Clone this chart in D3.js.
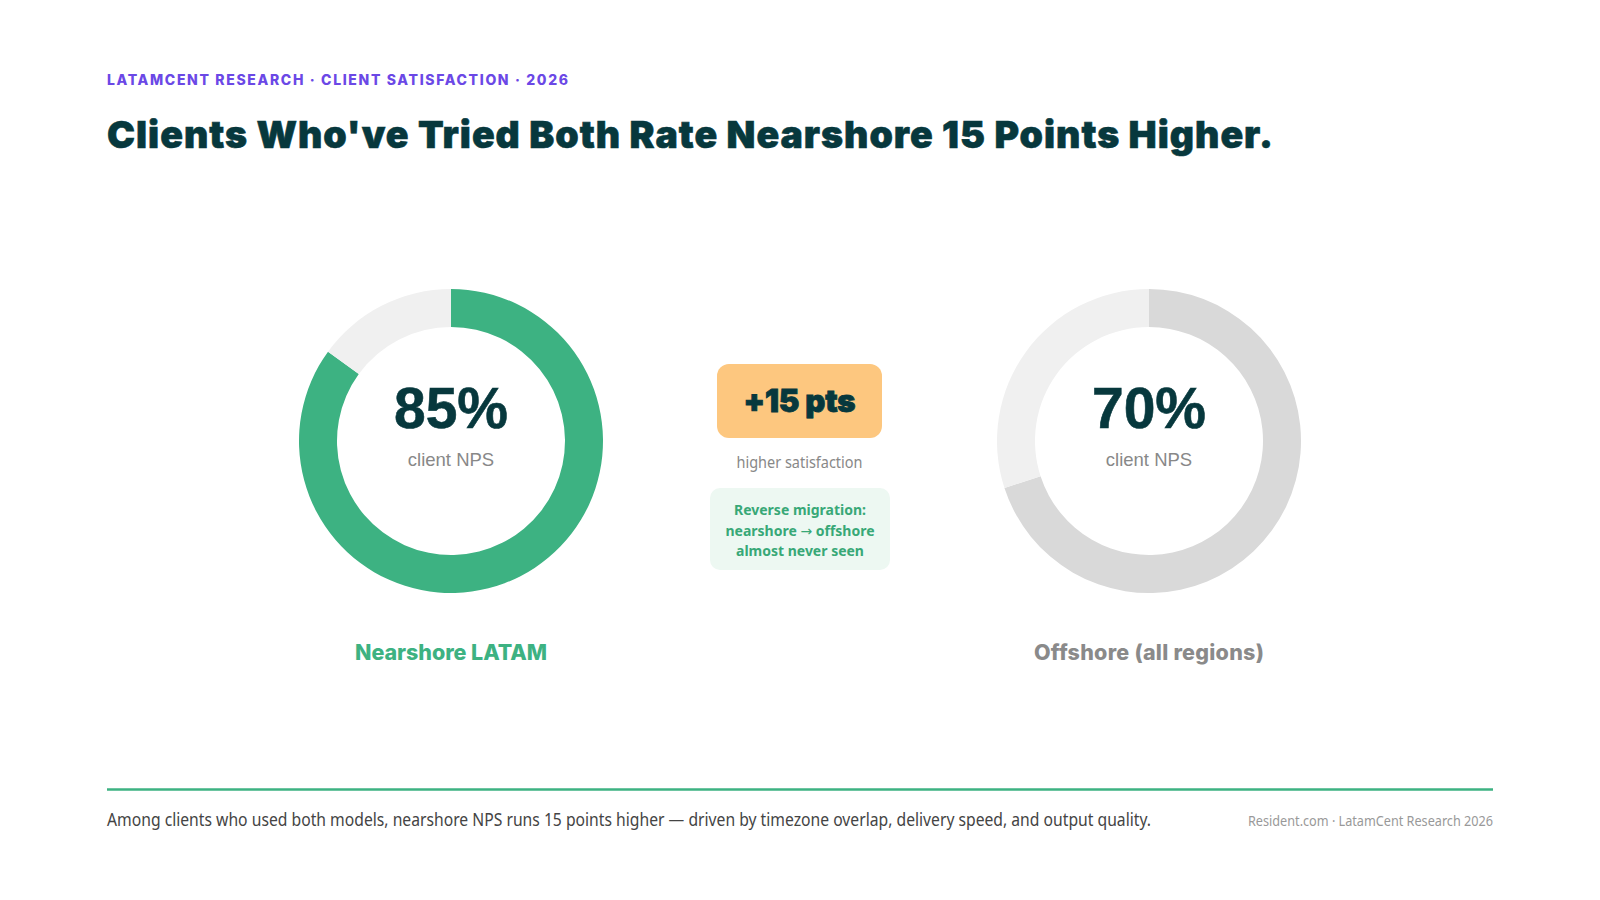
<!DOCTYPE html>
<html>
<head>
<meta charset="utf-8">
<script src="https://cdn.jsdelivr.net/npm/d3@7"></script>
<style>
  html, body { margin: 0; padding: 0; background: #ffffff; }
  svg { display: block; }
</style>
</head>
<body>
<svg id="chart" width="1600" height="900"></svg>
<script>
// ---- data ----
const segments = ["Nearshore LATAM", "Offshore (all regions)"];
const npsValues = [85, 70];
const centerCaption = "client NPS";
const deltaLabel = "+15 pts";
const deltaCaption = "higher satisfaction";
const noteLines = [["Reverse migration:"], ["nearshore ", "\u2192", " offshore"], ["almost never seen"]];
const eyebrow = "LATAMCENT RESEARCH \u00B7 CLIENT SATISFACTION \u00B7 2026";
const title = "Clients Who've Tried Both Rate Nearshore 15 Points Higher.";
const footnote = "Among clients who used both models, nearshore NPS runs 15 points higher \u2014 driven by timezone overlap, delivery speed, and output quality.";
const credit = "Resident.com \u00B7 LatamCent Research 2026";

// ---- styles ----
const dark = "#07383d";
const green = "#3db282";
const fillColors = [green, "#d9d9d9"];
const restColors = ["#f0f0f0", "#f0f0f0"];
const labelColors = [green, "#8a8a8a"];

const svg = d3.select("#chart");

function fit(sel, w) {
  sel.attr("textLength", w).attr("lengthAdjust", "spacingAndGlyphs");
}
function spaceTo(sel, w) {
  const node = sel.node();
  sel.attr("letter-spacing", 0);
  const nat = node.getComputedTextLength();
  const n = node.textContent.length;
  sel.attr("letter-spacing", (w - nat) / (n - 1));
}

// eyebrow
svg.append("text")
  .attr("x", 107).attr("y", 85)
  .attr("font-family", "Inter, 'Noto Sans', sans-serif")
  .attr("font-weight", 800).attr("font-size", 14)
  .attr("fill", "#6b48e6")
  .text(eyebrow)
  .call(spaceTo, 461);

// title
svg.append("text")
  .attr("x", 107).attr("y", 148)
  .attr("font-family", "Inter, 'Noto Sans', sans-serif")
  .attr("font-weight", 900).attr("font-size", 37.5)
  .attr("fill", dark)
  .attr("stroke", dark).attr("stroke-width", 0.6)
  .text(title)
  .call(spaceTo, 1166);

// donuts
const x = d3.scalePoint().domain(segments).range([451, 1149]);
const cy = 441;
const arc = d3.arc().innerRadius(114).outerRadius(152);

segments.forEach((s, i) => {
  const g = svg.append("g").attr("transform", `translate(${x(s)},${cy})`);
  const v = npsValues[i];
  const pie = d3.pie().sort(null).value(d => d)([v, 100 - v]);
  g.selectAll("path").data(pie).join("path")
    .attr("d", arc)
    .attr("fill", (d, j) => j === 0 ? fillColors[i] : restColors[i]);
  g.append("text")
    .attr("text-anchor", "middle").attr("y", -13)
    .attr("font-family", "'Liberation Sans', Arial, sans-serif")
    .attr("font-weight", 700).attr("font-size", 57)
    .attr("fill", dark)
    .attr("stroke", dark).attr("stroke-width", 0.6)
    .text(v + "%");
  g.append("text")
    .attr("text-anchor", "middle").attr("y", 25)
    .attr("font-family", "'Liberation Sans', Arial, sans-serif")
    .attr("font-size", 18.5)
    .attr("fill", "#888888")
    .text(centerCaption);
  svg.append("text")
    .attr("x", x(s)).attr("y", 660)
    .attr("text-anchor", "middle")
    .attr("font-family", "Inter, 'Noto Sans', sans-serif")
    .attr("font-weight", 800).attr("font-size", 21.5)
    .attr("fill", labelColors[i])
    .text(s)
    .call(spaceTo, i === 0 ? 192 : 230);
});

// middle badge
svg.append("rect")
  .attr("x", 717).attr("y", 364).attr("width", 165).attr("height", 74)
  .attr("rx", 12).attr("fill", "#fdc77f");
svg.append("text")
  .attr("x", 799.5).attr("y", 412)
  .attr("text-anchor", "middle")
  .attr("font-family", "Inter, 'Noto Sans', sans-serif")
  .attr("font-weight", 900).attr("font-size", 31)
  .attr("fill", dark)
  .attr("stroke", dark).attr("stroke-width", 0.9)
  .text(deltaLabel)
  .call(spaceTo, 112);
svg.append("text")
  .attr("x", 799.5).attr("y", 468)
  .attr("text-anchor", "middle")
  .attr("font-family", "'Noto Sans', sans-serif")
  .attr("font-size", 15.5)
  .attr("fill", "#888888")
  .text(deltaCaption)
  .call(fit, 126);

svg.append("rect")
  .attr("x", 710).attr("y", 488).attr("width", 180).attr("height", 82)
  .attr("rx", 10).attr("fill", "#edf8f2");
noteLines.forEach((parts, k) => {
  const t = svg.append("text")
    .attr("x", 800).attr("y", 515 + k * 20.5)
    .attr("text-anchor", "middle")
    .attr("font-family", "'Noto Sans', sans-serif")
    .attr("font-weight", 700).attr("font-size", 14)
    .attr("fill", "#38a877");
  parts.forEach(p => {
    const ts = t.append("tspan").text(p);
    if (p === "\u2192") ts.attr("font-family", "'DejaVu Sans', sans-serif").attr("font-weight", 400);
  });
});

// footer rule
svg.append("line")
  .attr("x1", 107).attr("x2", 1493).attr("y1", 789.5).attr("y2", 789.5)
  .attr("stroke", green).attr("stroke-width", 2.5);

svg.append("text")
  .attr("x", 107).attr("y", 826)
  .attr("font-family", "'Noto Sans', sans-serif")
  .attr("font-size", 17.5)
  .attr("fill", "#444444")
  .text(footnote)
  .call(fit, 1044);

svg.append("text")
  .attr("x", 1493).attr("y", 826)
  .attr("text-anchor", "end")
  .attr("font-family", "'Noto Sans', sans-serif")
  .attr("font-size", 14.5)
  .attr("fill", "#999999")
  .text(credit)
  .call(fit, 245);
</script>
</body>
</html>
